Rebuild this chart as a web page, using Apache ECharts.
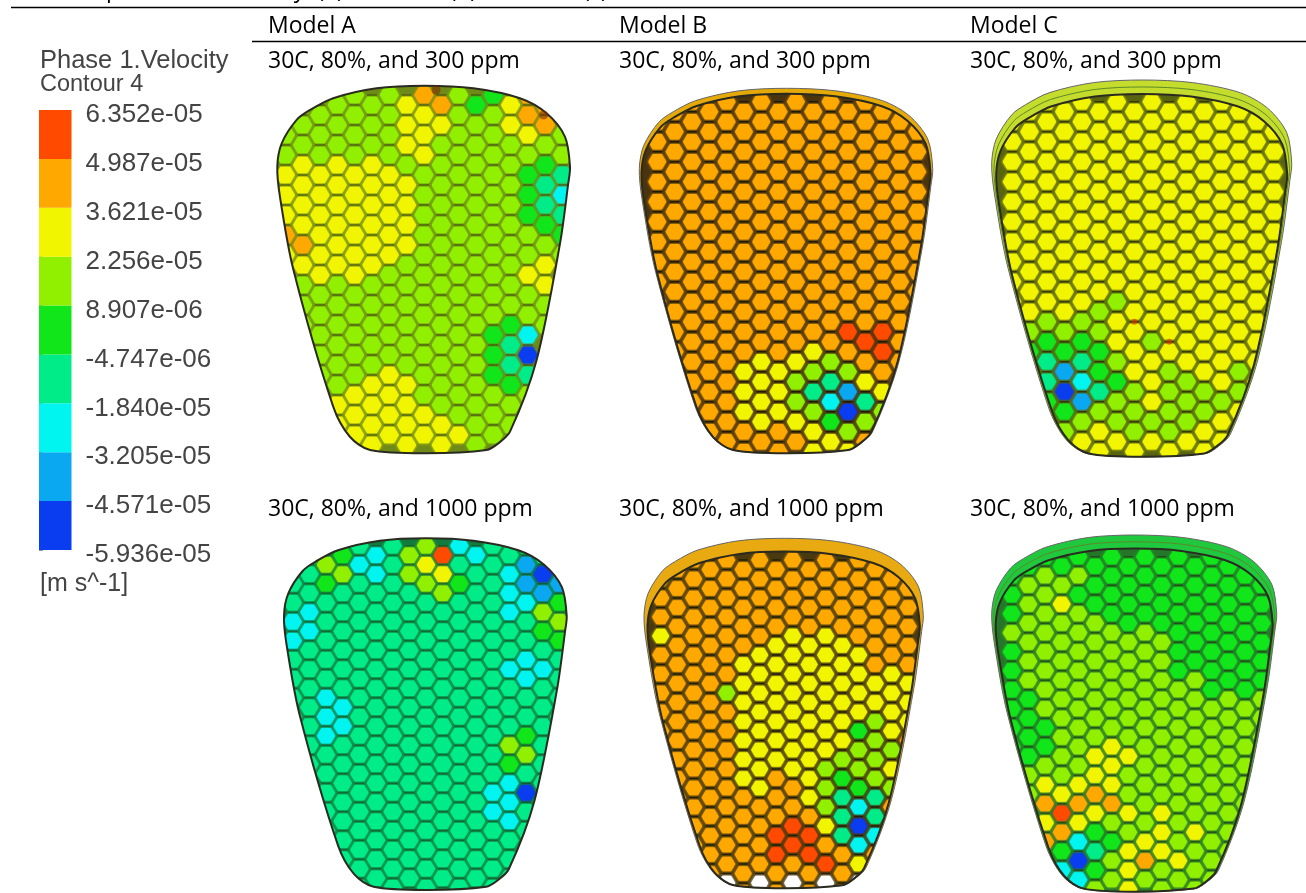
<!DOCTYPE html>
<html>
<head>
<meta charset="utf-8">
<title>Velocity contours</title>
<script src="https://cdn.jsdelivr.net/npm/echarts@6/dist/echarts.min.js"></script>
<style>
  html, body { margin: 0; padding: 0; background: #fff; }
  #main { width: 1306px; height: 893px; }
</style>
</head>
<body>
<div id="main"></div>
<script>
// legend bands, lowest first
var bandColors = ['#0a3cf0', '#0aa8f0', '#00f5f0', '#00ec88', '#10e61a', '#90f000', '#f2f500', '#ffa800', '#ff4a00']
var legendTicks = ['-5.936e-05', '-4.571e-05', '-3.205e-05', '-1.840e-05', '-4.747e-06', '8.907e-06', '2.256e-05', '3.621e-05', '4.987e-05', '6.352e-05']

var modelNames = ['Model A', 'Model B', 'Model C']
var caseNames = ['30C, 80%, and 300 ppm', '30C, 80%, and 1000 ppm']

// plate outline, share of its width and height
var outlineX = [.502, .67, .829, .92, .983, 1, .994, .966, .886, .795, .755, .715, .51, .317, .248, .191, .055, .009, 0, .015, .066, .112, .191, .339]
var outlineY = [0, .007, .034, .075, .139, .22, .266, .429, .746, .941, .973, .991, 1, .991, .955, .873, .501, .302, .22, .157, .093, .066, .034, .007]

// one string per column of cells, one band digit per cell from the top, '.' is an empty cell
var cellsA300 = [
  '555566676',
  '555666676555',
  '555566666655555',
  '55566666655555566',
  '555566666655555666',
  '555666666555556666',
  '555566666555556666',
  '666566665555556666',
  '766655555555555566',
  '765555555555555566',
  '555555555555555556',
  '455555555555555555',
  '455555555555444555',
  '665555555554334555',
  '7765444556552035',
  '775433456655',
  '555532345'
]
var cellsB300 = [
  '777777777777777777',
  '777777777777777777',
  '777777777777777777',
  '777777777777777777',
  '777777777777777777',
  '777777777777766677',
  '777777777777766667',
  '777777777777766677',
  '777777777777765567',
  '777777777777653566',
  '777777777777753246',
  '777777777778751056',
  '777777777777876357',
  '777777777778876577',
  '777777777777777777',
  '777777777777777777'
]
var cellsC300 = [
  '666666666666666666',
  '66666666666543',
  '666666666665433456',
  '666666666665410456',
  '666666666665432156',
  '666666666655443566',
  '666666666656654556',
  '666666666666665556',
  '666666666666566656',
  '666666666666655556',
  '666666666666665556',
  '666666666666665566',
  '666666666666666566',
  '666666666666655666',
  '666666666666666666',
  '666666666666666666'
]
var cellsA1000 = [
  '3333223333333333333',
  '3332233333333333333',
  '3543333322233333333',
  '4533333322333333333',
  '3233333333333333333',
  '2233333333333333333',
  '3333333333333333333',
  '5533333333333333333',
  '5653333333333333333',
  '8653333333333333333',
  '2343333333333333333',
  '2333333333333333333',
  '3333333333333223333',
  '3222332333542223333',
  '3112332233453033333',
  '3015432333333333333',
  '3314543333333333333'
]
var cellsB1000 = [
  '777767777777777777',
  '777777777777777777',
  '777777777777777777',
  '777777777777777777',
  '77777775777777777.',
  '777776666666777777',
  '77777666666667777.',
  '777766666667778877',
  '77776666666677887.',
  '777766666666678877',
  '77776666666555678.',
  '777766666654333777',
  '77777666645542026.',
  '777777665555332777',
  '777777666656577777',
  '777777666777777777'
]
var cellsC1000 = [
  '444454444444444444',
  '455555544445555555',
  '455555555445676744',
  '456555555555687423',
  '454555555555676202',
  '444555555566764345',
  '444455555566675455',
  '444455555565565666',
  '444455555555555675',
  '444455555555566655',
  '444444455555555565',
  '444444555555556555',
  '444444445555555555',
  '444444455555555555',
  '444444445555555555',
  '444444455555555555'
]
// small hot specks, [column, half row]
var specksA300 = [[8.7, -0.5], [14.9, 2]]
var specksC300 = [[7, 22], [9, 24]]

// px geometry of each plate: box of the outline, first cell centre, cell pitch
var panels = [
  { model: 0, row: 0, cells: cellsA300, L: 277.3, R: 570, T: 85.7, B: 453.3, x0: 285.3, y0: 95, px: 17.33, py: 10, size: 1, wall: '#6e8a18', dash: .4 },
  { model: 1, row: 0, cells: cellsB300, L: 639.3, R: 932.7, T: 88.3, B: 453.3, x0: 657.3, y0: 101.7, px: 17.33, py: 10, size: .94, wall: '#4a3410', dash: .85, rim: '#e6aa08', rimX: .985, rimY: .985 },
  { model: 2, row: 0, cells: cellsC300, L: 991.7, R: 1291.7, T: 80, B: 456.7, x0: 1012, y0: 101.7, px: 17.47, py: 10, size: .96, wall: '#586410', dash: .6, rim: '#c4dc2c', rimX: .97, rimY: .963, rimLine: true },
  { model: 0, row: 1, cells: cellsA1000, L: 284, R: 566.7, T: 538.3, B: 890, x0: 292.7, y0: 545.7, px: 16.67, py: 9.5, size: 1, wall: '#127a3c', dash: .3 },
  { model: 1, row: 1, cells: cellsB1000, L: 644, R: 923.3, T: 538.3, B: 888.3, x0: 660.7, y0: 560, px: 16.5, py: 9.5, size: .94, wall: '#4a3a10', dash: .8, rim: '#e8aa10', rimX: .975, rimY: .962 },
  { model: 2, row: 1, cells: cellsC1000, L: 991.7, R: 1276.7, T: 535, B: 891.7, x0: 1011.7, y0: 556.7, px: 16.67, py: 9.5, size: .97, wall: '#26762a', dash: .45, rim: '#20c83e', rimX: .972, rimY: .962, rimLine: true }
]

var labelFont = '"Open Sans"'
var cadFont = '"Liberation Sans"'

var myChart = echarts.init(document.getElementById('main'))

var grids = []
var xAxes = []
var yAxes = []
var series = []

function outlinePoints(api, p, sx, sy) {
  var xMin = (p.L - p.x0) / p.px
  var xMax = (p.R - p.x0) / p.px
  var yMin = (p.T - p.y0) / p.py
  var yMax = (p.B - p.y0) / p.py
  return outlineX.map(function (nx, i) {
    // scaled around the bottom middle, that is where the rim meets the plate
    var ax = .5 + (nx - .5) * sx
    var ay = 1 + (outlineY[i] - 1) * sy
    return api.coord([xMin + ax * (xMax - xMin), yMin + ay * (yMax - yMin)])
  })
}

function cellData(cells) {
  var out = []
  cells.forEach(function (col, c) {
    col.split('').forEach(function (ch, k) {
      out.push([c, (c % 2) + 2 * k, ch === '.' ? -1 : +ch])
    })
  })
  return out
}

panels.forEach(function (p, i) {
  grids.push({ left: p.L, top: p.T, width: p.R - p.L, height: p.B - p.T })
  xAxes.push({ type: 'value', gridIndex: i, show: false, min: (p.L - p.x0) / p.px, max: (p.R - p.x0) / p.px })
  yAxes.push({ type: 'value', gridIndex: i, show: false, inverse: true, min: (p.T - p.y0) / p.py, max: (p.B - p.y0) / p.py })

  var sx = p.rim ? p.rimX : 1
  var sy = p.rim ? p.rimY : 1

  // rim and wall colour under the cells
  series.push({
    type: 'custom', xAxisIndex: i, yAxisIndex: i, silent: true, data: [[0, 0]],
    renderItem: function (params, api) {
      var kids = []
      if (p.rim) {
        kids.push({ type: 'polygon', shape: { points: outlinePoints(api, p, 1, 1), smooth: .3 }, style: { fill: p.rim, stroke: '#666', lineWidth: 1 } })
        if (p.rimLine) {
          kids.push({ type: 'polygon', shape: { points: outlinePoints(api, p, (1 + sx) / 2, (1 + sy) / 2), smooth: .3 }, style: { fill: 'none', stroke: '#5c8a28', lineWidth: 1 } })
        }
      }
      kids.push({ type: 'polygon', shape: { points: outlinePoints(api, p, sx, sy), smooth: .3 }, style: { fill: p.wall } })
      return { type: 'group', children: kids }
    }
  })

  // hex cells, clipped by the plate
  series.push({
    type: 'custom', xAxisIndex: i, yAxisIndex: i, silent: true,
    data: cellData(p.cells),
    renderItem: function (params, api) {
      var lv = api.value(2)
      var c = api.coord([api.value(0), api.value(1)])
      var r = p.px * 0.56 * p.size
      var hy = p.py * 0.82 * p.size
      var wy = p.py
      var fill = lv < 0 ? '#fff' : bandColors[lv]
      return {
        type: 'group',
        clipPath: { type: 'polygon', shape: { points: outlinePoints(api, p, sx, sy), smooth: .3 } },
        children: [
          {
            type: 'polygon',
            shape: { points: [[c[0] - r, c[1]], [c[0] - r / 2, c[1] - hy], [c[0] + r / 2, c[1] - hy], [c[0] + r, c[1]], [c[0] + r / 2, c[1] + hy], [c[0] - r / 2, c[1] + hy]] },
            style: { fill: fill, shadowBlur: 3, shadowColor: fill }
          },
          {
            type: 'line',
            shape: { x1: c[0] - r / 2, y1: c[1] - wy, x2: c[0] + r / 2, y2: c[1] - wy },
            style: { stroke: 'rgba(20,20,0,' + p.dash + ')', lineWidth: 1.6 }
          }
        ]
      }
    }
  })

  // plate outline on top
  series.push({
    type: 'custom', xAxisIndex: i, yAxisIndex: i, silent: true, data: [[0, 0]],
    renderItem: function (params, api) {
      return { type: 'polygon', shape: { points: outlinePoints(api, p, sx, sy), smooth: .3 }, style: { fill: 'none', stroke: '#2a2a20', lineWidth: 2 } }
    }
  })
})

series.push({
  type: 'scatter', xAxisIndex: 0, yAxisIndex: 0, silent: true, symbolSize: 9,
  itemStyle: { color: 'rgba(130,40,0,.7)' }, data: specksA300
})
series.push({
  type: 'scatter', xAxisIndex: 2, yAxisIndex: 2, silent: true, symbolSize: 6,
  itemStyle: { color: 'rgba(220,50,0,.75)' }, data: specksC300
})

// colour bar, the tick labels sit a little below their ticks so they get a second grid
var legendIndex = panels.length
grids.push({ left: 39, top: 110, width: 32.5, height: 440 })
xAxes.push({ type: 'value', gridIndex: legendIndex, show: false, min: 0, max: 1 })
yAxes.push({
  type: 'value', gridIndex: legendIndex, position: 'right', min: 0, max: 9, interval: 1,
  axisLine: { show: false },
  splitLine: { show: false },
  axisTick: { show: true, length: 4, lineStyle: { color: '#999' } },
  axisLabel: { show: false }
})
grids.push({ left: 39, top: 115, width: 32.5, height: 440 })
xAxes.push({ type: 'value', gridIndex: legendIndex + 1, show: false, min: 0, max: 1 })
yAxes.push({
  type: 'value', gridIndex: legendIndex + 1, position: 'right', min: 0, max: 9, interval: 1,
  axisLine: { show: false },
  splitLine: { show: false },
  axisTick: { show: false },
  axisLabel: {
    show: true, margin: 14, color: '#444', fontFamily: cadFont, fontSize: 26,
    formatter: function (v) { return legendTicks[v] }
  }
})
series.push({
  type: 'custom', xAxisIndex: legendIndex, yAxisIndex: legendIndex, silent: true,
  data: bandColors.map(function (c, i) { return [i] }),
  renderItem: function (params, api) {
    var a = api.coord([0, api.value(0) + 1])
    var b = api.coord([1, api.value(0)])
    return { type: 'rect', shape: { x: a[0], y: a[1], width: b[0] - a[0], height: b[1] - a[1] }, style: { fill: bandColors[api.value(0)] } }
  }
})

var colX = [268, 619, 970]
var rowY = [50, 498]
var titles = [
  { text: 'Phase 1.Velocity', left: 40, top: 48, textStyle: { fontFamily: cadFont, fontSize: 25.5, fontWeight: 'normal', color: '#444' } },
  { text: 'Contour 4', left: 40, top: 73, textStyle: { fontFamily: cadFont, fontSize: 23.5, fontWeight: 'normal', color: '#444' } },
  { text: '[m s^-1]', left: 40, top: 572, textStyle: { fontFamily: cadFont, fontSize: 25, fontWeight: 'normal', color: '#444' } },
  { text: 'Contour plot of the Velocity, (a) Model A, (b) Model B, (c) Model C', left: 12, top: -21, textStyle: { fontFamily: labelFont, fontSize: 23, fontWeight: 'normal', color: '#000' } }
]
modelNames.forEach(function (name, i) {
  titles.push({ text: name, left: colX[i], top: 15, textStyle: { fontFamily: labelFont, fontSize: 23, fontWeight: 'normal', color: '#000' } })
  caseNames.forEach(function (cs, j) {
    titles.push({ text: cs, left: colX[i], top: rowY[j], textStyle: { fontFamily: labelFont, fontSize: 23, fontWeight: 'normal', color: '#000' } })
  })
})
titles.forEach(function (t) { t.padding = 0 })

myChart.setOption({
  animation: false,
  backgroundColor: '#fff',
  title: titles,
  grid: grids,
  xAxis: xAxes,
  yAxis: yAxes,
  series: series,
  graphic: [
    { type: 'line', shape: { x1: 11, y1: 7.5, x2: 1306, y2: 7.5 }, style: { stroke: '#000', lineWidth: 1.3 } },
    { type: 'line', shape: { x1: 252, y1: 41.5, x2: 1306, y2: 41.5 }, style: { stroke: '#000', lineWidth: 1.3 } }
  ]
})
</script>
</body>
</html>
